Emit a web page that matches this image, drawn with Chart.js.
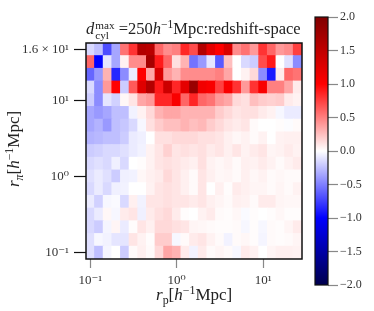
<!DOCTYPE html>
<html>
<head>
<meta charset="utf-8">
<script src="https://cdn.jsdelivr.net/npm/chart.js@4.4.1/dist/chart.umd.min.js"></script>
<style>
  body { margin: 0; background: #fff; }
  #wrap { position: relative; width: 374px; height: 311px; font-family: "Liberation Serif", "DejaVu Serif", serif; color: #222; }
  #main { position: absolute; left: 0; top: 0; }
  #cbar { position: absolute; left: 305px; top: 0; }
  .lbl { position: absolute; white-space: nowrap; font-size: 16px; }
  .ss { display: inline-block; vertical-align: -0.42em; line-height: 0.9; font-size: 0.68em; margin-left: 1px; }
  .ss span { display: block; }
  sup { font-size: 0.7em; vertical-align: 0.5em; line-height: 0; }
  sub { font-size: 0.7em; vertical-align: -0.3em; line-height: 0; }
  #title { left: 86px; top: 19px; font-size: 16.5px; }
  #xlab { left: 156px; top: 285px; font-size: 17px; }
  #ylab { left: -44px; top: 139px; transform: rotate(-90deg); transform-origin: center; width: 116px; text-align: center; font-size: 17px; }
</style>
</head>
<body>
<div id="wrap">
  <canvas id="main" width="305" height="311"></canvas>
  <canvas id="cbar" width="69" height="311"></canvas>
  <div class="lbl" id="title"><i>d</i><span class="ss"><span>max</span><span>cyl</span></span> =250<i>h</i><sup>−1</sup>Mpc:redshift-space</div>
  <div class="lbl" id="xlab"><i>r</i><sub>p</sub>[<i>h</i><sup>−1</sup>Mpc]</div>
  <div class="lbl" id="ylab"><i>r</i><sub><i>π</i></sub>[<i>h</i><sup>−1</sup>Mpc]</div>
</div>
<script>
// r_p bin centres (log spaced), one per column
const rpCenters = [0.1, 0.126, 0.158, 0.2, 0.251, 0.316, 0.398, 0.501, 0.631, 0.794,
  1.0, 1.26, 1.58, 2.0, 2.51, 3.16, 3.98, 5.01, 6.31, 7.94, 10.0, 12.6, 15.8, 20.0, 25.1];
const rpMin = 0.0891;
const rpMax = 28.2;
const xTickValues = [0.1, 1, 10];
const xTickLabels = ["10⁻¹", "10⁰", "10¹"];

// r_pi bin centres, bottom row first
const rpiCenters = [0.1, 0.147, 0.215, 0.316, 0.464, 0.681, 1, 1.47, 2.15, 3.16, 4.64, 6.81,
  10, 11.5, 13, 14.5, 16];
const yTickRows = [0, 6, 12, 16];
const yTickLabels = ["10⁻¹", "10⁰", "10¹", "1.6 × 10¹"];

// cell values, top row (r_pi = 16) first
const rowsTopDown = [
  [-0.15,-0.25,-0.7,-0.35,0.55,0.8,1.6,1.55,0.6,0.45,0.5,0.85,0.7,1.6,1.2,1.0,1.3,0.45,0.55,0.4,0.8,0.6,0.4,0.45,0.75],
  [0.6,-1.0,-0.1,-0.35,0.05,0.45,0.45,1.7,0.9,0.6,0.12,0.3,-0.55,-0.4,-0.1,-0.65,0.25,0.0,-0.15,-0.2,0.7,0.9,0.0,-0.12,-0.45],
  [-0.6,-0.4,0.3,-0.85,-0.45,-0.08,1.0,0.35,1.3,0.4,0.3,0.45,0.45,0.45,0.45,0.5,0.35,0.0,0.05,0.15,-0.45,-0.9,0.08,0.6,0.55],
  [-0.15,-0.45,0.4,1.0,-0.2,0.65,1.25,1.6,0.9,1.4,0.85,1.2,1.8,1.1,1.05,0.75,1.05,0.8,0.4,0.8,1.05,0.5,0.5,0.35,0.08],
  [-0.2,-0.45,-0.1,-0.18,0.03,0.1,0.35,0.4,0.85,0.85,1.05,0.6,0.85,0.6,0.55,0.4,0.35,0.15,0.12,0.25,0.2,0.18,0.2,0.08,0.05],
  [-0.35,-0.4,-0.35,-0.25,-0.25,-0.05,0.05,0.15,0.3,0.35,0.35,0.3,0.3,0.3,0.3,0.2,0.15,0.1,0.12,0.12,0.08,0.05,-0.03,-0.08,-0.08],
  [-0.35,-0.3,-0.4,-0.25,-0.22,-0.15,-0.03,0.12,0.2,0.25,0.25,0.3,0.25,0.28,0.2,0.15,0.1,0.08,0.1,0.02,0.0,0.0,0.01,-0.01,0.02],
  [-0.3,-0.28,-0.25,-0.25,-0.2,-0.08,-0.06,0.0,0.12,0.12,0.15,0.15,0.15,0.12,0.12,0.1,0.06,0.03,0.05,0.02,0.05,0.0,0.05,0.06,0.06],
  [-0.2,-0.18,-0.15,-0.15,-0.12,-0.08,-0.05,0.05,0.1,0.18,0.1,0.12,0.1,0.12,0.08,0.1,0.06,0.1,0.05,0.08,0.1,0.04,0.05,0.08,0.05],
  [-0.15,-0.12,-0.15,-0.06,-0.15,0.0,0.01,0.05,0.1,0.12,0.1,0.08,0.06,0.12,0.05,0.03,0.05,0.02,0.06,0.05,0.08,0.05,0.02,0.05,0.08],
  [-0.12,-0.08,-0.12,-0.2,-0.06,-0.05,0.03,0.06,0.08,0.15,0.1,0.06,0.02,0.1,0.06,0.03,0.04,0.02,0.06,0.03,0.05,0.02,0.03,0.02,0.02],
  [-0.15,-0.08,-0.15,-0.06,-0.05,0.0,0.0,0.05,0.1,0.12,0.1,0.06,0.02,0.1,0.0,0.06,0.01,0.08,0.06,0.04,0.04,0.02,0.04,0.02,0.05],
  [-0.08,-0.18,-0.03,-0.02,-0.15,0.06,-0.05,0.1,0.1,0.12,0.1,0.1,0.08,0.1,0.06,0.04,0.02,0.06,0.05,0.02,0.08,0.08,0.04,0.03,0.03],
  [-0.15,-0.08,0.03,-0.03,0.08,0.1,-0.06,0.08,0.12,0.15,0.08,0.01,0.0,0.05,0.08,0.02,0.01,0.03,-0.02,0.01,0.0,0.01,0.03,0.01,0.01],
  [-0.15,-0.2,-0.04,0.04,-0.08,0.01,0.1,0.06,0.15,0.15,0.12,0.1,0.04,0.03,0.02,0.01,0.01,0.02,-0.03,0.01,-0.03,0.02,0.01,0.04,0.08],
  [-0.12,-0.03,-0.05,-0.1,-0.1,0.1,0.05,0.01,0.2,0.2,-0.03,0.02,0.08,0.1,0.05,0.02,-0.05,0.02,0.03,0.01,-0.04,0.02,0.01,0.02,0.04],
  [-0.12,-0.25,-0.04,0.0,-0.2,0.02,0.06,0.02,0.15,0.35,0.3,0.08,-0.05,0.08,0.02,0.04,0.02,-0.03,0.08,0.05,0.0,0.04,0.06,0.06,0.05]
];

const vmin = -2, vmax = 2;
const cbarTicks = [-2, -1.5, -1, -0.5, 0, 0.5, 1, 1.5, 2];

// matplotlib "seismic"
const seismicStops = [[0, 0, 0.3], [0, 0, 1], [1, 1, 1], [1, 0, 0], [0.5, 0, 0]];
function seismic(v) {
  let t = (v - vmin) / (vmax - vmin);
  t = Math.max(0, Math.min(1, t)) * 4;
  const i = Math.min(3, Math.floor(t));
  const f = t - i;
  const a = seismicStops[i], b = seismicStops[i + 1];
  const c = a.map((x, k) => Math.round(255 * (x + (b[k] - x) * f)));
  return `rgb(${c[0]},${c[1]},${c[2]})`;
}

const frame = {
  id: "frame",
  afterDatasetsDraw(chart, args, opts) {
    const a = chart.chartArea, ctx = chart.ctx;
    ctx.save();
    ctx.strokeStyle = "#111";
    ctx.lineWidth = opts.width || 1.5;
    ctx.strokeRect(a.left, a.top, a.right - a.left, a.bottom - a.top);
    ctx.restore();
  }
};

const serif = "'Liberation Serif', 'DejaVu Serif', serif";
const rowsBottomUp = rowsTopDown.slice().reverse();

new Chart(document.getElementById("main"), {
  type: "bar",
  data: {
    labels: rpCenters.map(String),
    datasets: rowsBottomUp.map((row, r) => ({
      label: "r_pi=" + rpiCenters[r],
      data: row.map(() => 1),
      backgroundColor: row.map(seismic),
      borderWidth: 0,
      inflateAmount: 0.5,
      barPercentage: 1,
      categoryPercentage: 1
    }))
  },
  options: {
    responsive: false,
    animation: false,
    layout: { padding: { top: 43, right: 3, left: 0, bottom: 0 } },
    plugins: { legend: { display: false }, tooltip: { enabled: false }, frame: { width: 1.5 } },
    scales: {
      x: { stacked: true, display: false },
      x2: {
        type: "logarithmic", position: "bottom", min: rpMin, max: rpMax, offset: false,
        afterBuildTicks: s => { s.ticks = xTickValues.map(v => ({ value: v })); },
        afterFit: s => { s.height = 52; },
        ticks: {
          callback: v => xTickLabels[xTickValues.indexOf(v)] ?? "",
          font: { family: serif, size: 13 }, color: "#333", padding: 5, maxRotation: 0
        },
        grid: { offset: false, drawOnChartArea: false, tickLength: 9, tickColor: "#888", tickWidth: 1.2 },
        border: { display: false }
      },
      y: {
        stacked: true, min: 0, max: rpiCenters.length,
        afterBuildTicks: s => { s.ticks = yTickRows.map(r => ({ value: r + 0.5 })); },
        afterFit: s => { s.width = 86; },
        ticks: {
          callback: v => yTickLabels[yTickRows.indexOf(Math.round(v - 0.5))] ?? "",
          font: { family: serif, size: 13 }, color: "#333", padding: 5
        },
        grid: { drawOnChartArea: false, tickLength: 12, tickColor: "#111", tickWidth: 1.2 },
        border: { display: false }
      }
    }
  },
  plugins: [frame]
});

new Chart(document.getElementById("cbar"), {
  type: "bar",
  data: {
    labels: [""],
    datasets: [{
      data: [[vmin, vmax]],
      borderWidth: 0,
      barPercentage: 1,
      categoryPercentage: 1,
      backgroundColor: (ctx) => {
        const area = ctx.chart.chartArea;
        if (!area) return "#fff";
        const g = ctx.chart.ctx.createLinearGradient(0, area.bottom, 0, area.top);
        seismicStops.forEach((c, i) => g.addColorStop(i / 4, `rgb(${c.map(x => Math.round(x * 255)).join(",")})`));
        return g;
      }
    }]
  },
  options: {
    responsive: false,
    animation: false,
    layout: { padding: { top: 17, bottom: 26, left: 10, right: 0 } },
    plugins: { legend: { display: false }, tooltip: { enabled: false }, frame: { width: 1.2 } },
    scales: {
      x: { display: false },
      y: {
        position: "right", min: vmin, max: vmax,
        afterBuildTicks: s => { s.ticks = cbarTicks.map(v => ({ value: v })); },
        afterFit: s => { s.width = 46; },
        ticks: {
          callback: v => (v < 0 ? "−" : "") + Math.abs(v).toFixed(1),
          font: { family: serif, size: 12 }, color: "#333", padding: 2
        },
        grid: { drawOnChartArea: false, tickLength: 10, tickColor: "#888", tickWidth: 1.2 },
        border: { display: false }
      }
    }
  },
  plugins: [frame]
});
</script>
</body>
</html>
